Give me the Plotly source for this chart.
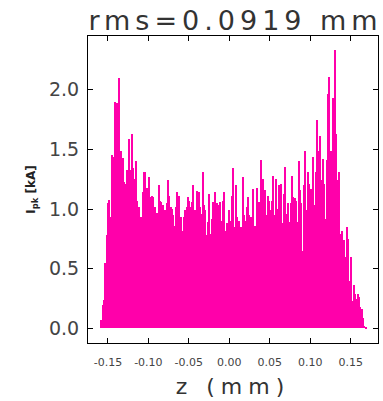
import plotly.graph_objects as go

# Longitudinal current profile I_pk(z), one value per histogram bin (kA)
z_first = -0.1581     # centre of the first bin (mm)
bin_width = 0.00165   # bin width (mm)

current_ramp = [0.07, 0.20, 0.24, 0.55, 0.78]
current_head = [
    1.05, 1.08, 0.93, 1.45, 1.44, 1.90, 1.44, 1.89, 2.10, 1.38,
    1.49, 1.43, 1.23, 1.21, 1.33, 1.17, 1.59, 1.33, 1.63, 1.34,
    1.25, 1.40, 1.07, 1.02, 0.90, 0.93, 1.14, 1.31, 1.31, 1.18,
    1.07, 1.27, 1.10, 1.11, 1.10, 1.02, 0.89, 0.97, 1.20, 1.07,
    1.06, 1.03, 0.90, 0.99, 1.05, 1.24, 1.11, 1.02, 1.00, 0.95,
    0.86, 1.02, 1.14, 1.11, 0.90, 0.93, 0.82, 0.93,
]
current_core = [
    0.99, 1.02, 1.10, 1.07, 1.02, 1.06, 1.20, 0.99, 0.83, 1.15,
    1.14, 1.02, 0.96, 1.31, 1.03, 0.99, 0.78, 0.89, 1.13, 0.79,
    0.92, 1.06, 1.14, 1.02, 1.05, 1.03, 1.06, 0.90, 1.07, 1.14,
    0.82, 0.88, 0.88, 0.99, 0.90, 1.11, 1.34, 0.85, 1.20, 0.93,
    0.90, 0.85, 0.85, 1.27, 0.95, 0.90, 1.02, 1.10, 0.95, 0.93,
    0.86, 1.17, 0.86, 0.85, 1.18, 1.06, 1.02, 1.41, 1.25, 0.92,
    1.16, 0.95, 1.11, 1.07, 0.99, 1.07, 1.28, 0.95,
]
current_tail = [
    1.25, 1.00, 1.20, 1.05, 1.21, 0.88, 1.13, 1.35, 0.96, 1.05,
    0.89, 1.05, 1.28, 1.10, 1.09, 1.07, 0.89, 1.40, 1.16, 1.05,
    0.65, 1.20, 1.49, 0.99, 1.31, 1.21, 1.17, 1.17, 1.44, 1.03,
    1.31, 1.75, 1.49, 1.61, 1.24, 1.42, 1.21, 0.92, 1.41, 1.96,
    2.11, 1.49, 1.41, 1.93, 2.33, 1.63, 1.24, 1.31, 0.79, 0.82,
    0.65, 0.74, 0.60, 0.85, 0.75, 0.40, 0.60, 0.23, 0.36, 0.29,
    0.25, 0.29, 0.26, 0.18, 0.16, 0.09, 0.02, 0.01,
]
current = current_ramp + current_head + current_core + current_tail
z = [z_first + i * bin_width for i in range(len(current))]

x_ticks = [-0.15, -0.10, -0.05, 0.00, 0.05, 0.10, 0.15]
x_tick_text = ["-0.15", "-0.10", "-0.05", "0.00", "0.05", "0.10", "0.15"]
y_ticks = [0.0, 0.5, 1.0, 1.5, 2.0]
y_tick_text = ["0.0", "0.5", "1.0", "1.5", "2.0"]

MAGENTA = "rgb(255,0,170)"
TEXT = "#444444"

fig = go.Figure(
    go.Bar(
        x=z,
        y=current,
        width=bin_width,
        marker=dict(color=MAGENTA, line=dict(width=0)),
    )
)

fig.update_layout(
    width=383,
    height=401,
    margin=dict(l=88, r=5, t=36, b=58),
    paper_bgcolor="white",
    plot_bgcolor="white",
    bargap=0,
    showlegend=False,
    font=dict(family="DejaVu Sans", color=TEXT),
    title=dict(
        text='<span style="letter-spacing:5px">rms=0.0919 mm</span>',
        font=dict(size=27, color="#333333"),
        x=0.615,
        xref="container",
        xanchor="center",
        y=0.95,
        yref="container",
        yanchor="middle",
    ),
)

fig.update_xaxes(
    range=[-0.1746, 0.1838],
    tickvals=x_ticks,
    ticktext=x_tick_text,
    ticks="inside",
    ticklen=5,
    tickcolor="black",
    showline=True,
    linecolor="black",
    linewidth=1,
    mirror="ticks",
    showgrid=False,
    zeroline=False,
    tickfont=dict(size=11, color=TEXT),
    ticklabelstandoff=9,
    title=dict(
        text='<span style="letter-spacing:6px">z (mm)</span>',
        font=dict(size=22, color="#333333"),
        standoff=10,
    ),
)

fig.update_yaxes(
    range=[-0.122, 2.45],
    tickvals=y_ticks,
    ticktext=y_tick_text,
    ticks="inside",
    ticklen=5,
    tickcolor="black",
    showline=True,
    linecolor="black",
    linewidth=1,
    mirror="ticks",
    showgrid=False,
    zeroline=False,
    tickfont=dict(size=19, color=TEXT),
    ticklabelstandoff=4,
    title=dict(
        text="<b>I<sub>pk</sub> [kA]</b>",
        font=dict(size=12, color="#222222"),
        standoff=10,
    ),
)

fig.write_html("out.html")
